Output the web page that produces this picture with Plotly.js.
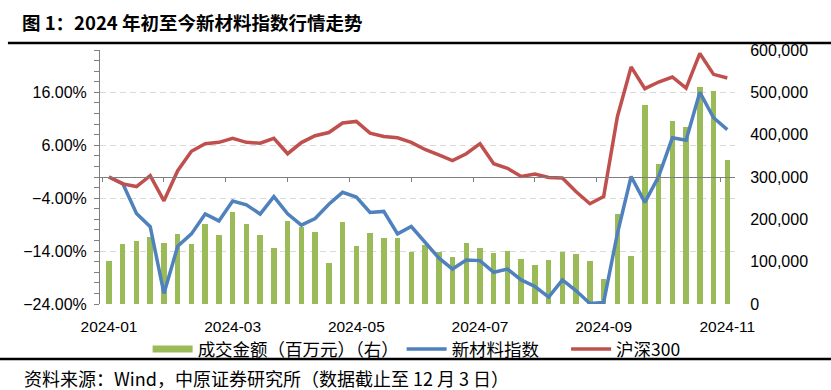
<!DOCTYPE html>
<html>
<head>
<meta charset="utf-8">
<script src="https://cdn.plot.ly/plotly-3.0.1.min.js"></script>
<style>
  html, body { margin: 0; padding: 0; background: #fff; }
  #chart { width: 831px; height: 390px; }
</style>
</head>
<body>
<div id="chart"></div>
<script>
// Weekly observation dates (equally spaced categories on the chart)
const weeks = [
  "2024-01-05","2024-01-12","2024-01-19","2024-01-26","2024-02-02","2024-02-09","2024-02-23",
  "2024-03-01","2024-03-08","2024-03-15","2024-03-22","2024-03-29",
  "2024-04-03","2024-04-12","2024-04-19","2024-04-26",
  "2024-04-30","2024-05-10","2024-05-17","2024-05-24","2024-05-31",
  "2024-06-07","2024-06-14","2024-06-21","2024-06-28",
  "2024-07-05","2024-07-12","2024-07-19","2024-07-26",
  "2024-08-02","2024-08-09","2024-08-16","2024-08-23","2024-08-30",
  "2024-09-06","2024-09-13","2024-09-20","2024-09-27",
  "2024-10-11","2024-10-18","2024-10-25",
  "2024-11-01","2024-11-08","2024-11-15","2024-11-22","2024-11-29"
];

// 成交金额（百万元）— right axis
const turnover = [
  101000,141000,148000,158000,144000,166000,142000,189000,164000,218000,
  189000,164000,132000,197000,183000,169000,96000,194000,137000,167000,
  155000,155000,123000,139000,124000,111000,144000,132000,120000,125000,
  106000,92000,103000,123000,117000,101000,60000,212000,113000,470000,
  331000,433000,419000,513000,504000,340000
];

// 新材料指数 cumulative change (%) — left axis
const newMaterial = [
  0,-1.25,-6.9,-9.4,-22,-13.1,-10.75,-7.0,-8.3,-4.55,
  -5.25,-7.0,-3.7,-6.95,-9.1,-7.85,-5.15,-2.9,-3.8,-6.7,
  -6.5,-10.75,-9.35,-12.4,-15.3,-17.4,-15.7,-15.8,-18.0,-17.4,
  -19.45,-20.7,-22.7,-19.45,-21.5,-23.9,-23.7,-10.7,0.1,-4.8,
  0.1,7.4,6.95,16.0,11.2,8.95
];

// 沪深300 cumulative change (%) — left axis
const csi300 = [
  0,-1.3,-1.8,0.25,-4.5,1.2,4.85,6.3,6.55,7.3,
  6.55,6.4,7.3,4.4,6.5,7.8,8.4,10.2,10.5,8.3,
  7.65,7.4,6.55,5.2,4.2,3.1,4.4,6.3,2.5,1.65,
  0.1,0.55,-0.1,-0.2,-2.8,-5.05,-3.7,11.4,20.8,16.7,
  17.95,18.9,16.8,23.35,19.4,18.7
];

const tickLabels = ["2024-01","2024-03","2024-05","2024-07","2024-09","2024-11"];
const seriesNames = ["成交金额（百万元）（右）","新材料指数","沪深300"];

const COL_BAR = "#9BBB59", COL_BLUE = "#4F81BD", COL_RED = "#C0504D";
const NUM_FONT = "Liberation Sans, Arial, sans-serif";
const CJK_FONT = "Noto Sans CJK SC, sans-serif";

const xIdx = weeks.map((_, i) => i);
const labelPos = tickLabels.map((_, i) => i * 9);
const monthTicks = [];
for (let k = 0; k <= 10; k++) monthTicks.push(-0.5 + 4.5 * k);

const xRange = [-0.655, 45.56];

const traces = [
  {
    type: "bar", x: xIdx, y: turnover, name: seriesNames[0],
    xaxis: "x", yaxis: "y", marker: { color: COL_BAR }, width: 0.4,
    showlegend: false, hoverinfo: "x+y"
  },
  {
    type: "scatter", mode: "lines", x: xIdx, y: newMaterial, name: seriesNames[1],
    xaxis: "x", yaxis: "y2", line: { color: COL_BLUE, width: 3.5 }, legend: "legend2"
  },
  {
    type: "scatter", mode: "lines", x: xIdx, y: csi300, name: seriesNames[2],
    xaxis: "x", yaxis: "y2", line: { color: COL_RED, width: 3.5 }, legend: "legend3"
  },
  // legend swatch for the bar series (flat rectangle like the original)
  {
    type: "scatter", mode: "lines", x: [null], y: [null], name: seriesNames[0],
    xaxis: "x", yaxis: "y", line: { color: COL_BAR, width: 7 }, legend: "legend",
    hoverinfo: "skip"
  },
  // carrier for the zero-line tick axis
  {
    type: "scatter", mode: "lines", x: [null], y: [null], xaxis: "x2", yaxis: "y2",
    showlegend: false, hoverinfo: "skip"
  }
];

const legendBase = {
  orientation: "h", yanchor: "middle", y: -0.178, xanchor: "left",
  font: { family: CJK_FONT, size: 17.5, color: "#000" },
  bgcolor: "rgba(0,0,0,0)", itemwidth: 40, borderwidth: 0
};

const layout = {
  width: 831, height: 390,
  margin: { l: 100, r: 96, t: 50, b: 86, pad: 0 },
  paper_bgcolor: "#fff", plot_bgcolor: "#fff",
  bargap: 0,
  xaxis: {
    range: xRange, fixedrange: true,
    tickmode: "array", tickvals: labelPos, ticktext: tickLabels,
    ticks: "", showline: false, showgrid: false, zeroline: false,
    tickfont: { family: NUM_FONT, size: 15.5, color: "#000" },
    ticklabelstandoff: 11
  },
  xaxis2: {
    overlaying: "x", anchor: "free", position: 0.5, range: xRange,
    tickmode: "array", tickvals: monthTicks, showticklabels: false,
    ticks: "outside", ticklen: 4, tickcolor: "#7F7F7F", tickwidth: 1,
    showline: true, linecolor: "#7F7F7F", linewidth: 1,
    showgrid: false, zeroline: false
  },
  yaxis: {
    side: "right", range: [0, 600000], tick0: 0, dtick: 100000,
    tickformat: ",d", showgrid: false, zeroline: false, showline: false,
    ticks: "outside", ticklen: 11, tickcolor: "rgba(0,0,0,0)",
    tickfont: { family: NUM_FONT, size: 16, color: "#000" }
  },
  yaxis2: {
    overlaying: "y", side: "left", range: [-24, 24], tick0: -24, dtick: 10,
    tickformat: ".2f", ticksuffix: "%",
    showgrid: true, gridcolor: "#D9D9D9", griddash: "6px,4px", gridwidth: 1,
    zeroline: false, showline: true, linecolor: "#7F7F7F", linewidth: 1,
    ticks: "outside", ticklen: 5, tickcolor: "#7F7F7F",
    minor: { tick0: -24, dtick: 2, ticks: "outside", ticklen: 5, tickcolor: "#7F7F7F", showgrid: false },
    tickfont: { family: NUM_FONT, size: 16, color: "#000" },
    ticklabelstandoff: 4
  },
  legend: Object.assign({}, legendBase, { x: 0.075 }),
  legend2: Object.assign({}, legendBase, { x: 0.475 }),
  legend3: Object.assign({}, legendBase, { x: 0.734 }),
  shapes: [
    { type: "line", xref: "paper", yref: "paper", x0: -0.145, x1: 1.16, y0: (304 - 43) / 254, y1: (304 - 43) / 254,
      line: { color: "#000", width: 2.5 } },
    { type: "line", xref: "paper", yref: "paper", x0: -0.16, x1: 1.16, y0: (304 - 359) / 254, y1: (304 - 359) / 254,
      line: { color: "#000", width: 2.5 } }
  ],
  annotations: [
    { xref: "paper", yref: "paper", x: (20 - 100) / 635, y: (304 - 22) / 254,
      xanchor: "left", yanchor: "middle", showarrow: false,
      text: "<b>图 1：2024 年初至今新材料指数行情走势</b>",
      font: { family: CJK_FONT, size: 18.5, color: "#000" } },
    { xref: "paper", yref: "paper", x: (22 - 100) / 635, y: (304 - 378) / 254,
      xanchor: "left", yanchor: "middle", showarrow: false,
      text: "资料来源：Wind，中原证券研究所（数据截止至 12 月 3 日）",
      font: { family: CJK_FONT, size: 18, color: "#000" } }
  ]
};

Plotly.newPlot("chart", traces, layout, { displayModeBar: false, staticPlot: true });
</script>
</body>
</html>
